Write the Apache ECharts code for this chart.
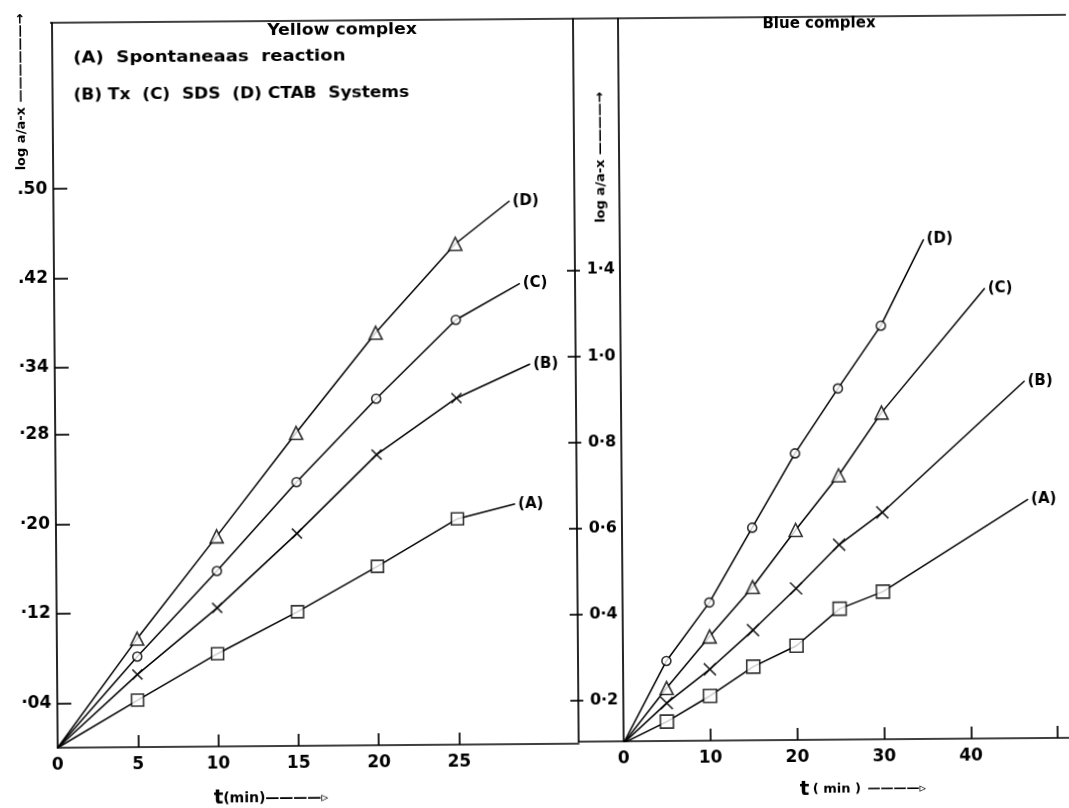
<!DOCTYPE html>
<html>
<head>
<meta charset="utf-8">
<script src="https://cdn.jsdelivr.net/npm/echarts@6/dist/echarts.min.js"></script>
<style>
html,body{margin:0;padding:0;background:#fff;}
#chart{width:1069px;height:808px;transform:rotate(-0.45deg);transform-origin:50% 50%;}
</style>
</head>
<body>
<div id="chart"></div>
<script>
// ---------- data ----------
// Yellow complex (left panel)
const tLeft = [5, 10, 15, 20, 25];
const leftA = [0.042, 0.083, 0.120, 0.160, 0.202];   // squares
const leftB = [0.065, 0.124, 0.190, 0.260, 0.310];   // crosses
const leftC = [0.081, 0.157, 0.236, 0.310, 0.380];   // circles
const leftD = [0.097, 0.188, 0.280, 0.369, 0.448];   // triangles
const leftStart = [0, 0];
const leftEndT = [28.6, 29.6, 29.0, 28.4];           // A B C D line ends
const leftEndV = [0.215, 0.340, 0.412, 0.486];

// Blue complex (right panel)
const tRight = [5, 10, 15, 20, 25, 30];
const rightA = [0.149, 0.208, 0.275, 0.323, 0.408, 0.447]; // squares
const rightB = [0.192, 0.270, 0.360, 0.456, 0.557, 0.631]; // crosses
const rightC = [0.227, 0.346, 0.460, 0.592, 0.718, 0.863]; // triangles
const rightD = [0.290, 0.425, 0.598, 0.770, 0.920, 1.065]; // circles
const rightStart = [0, 0.1];
const rightEndT = [46.8, 46.5, 42.0, 35.0];
const rightEndV = [0.659, 0.934, 1.150, 1.265];

const curveNames = ['(A)', '(B)', '(C)', '(D)'];

// ---------- tick labels ----------
const leftXTicks = [5, 10, 15, 20, 25];
const leftXLabelVals = [0, 5, 10, 15, 20, 25];
const leftYTicks = [0.04, 0.12, 0.20, 0.28, 0.34, 0.42, 0.50];
const leftYLabels = ['·04', '·12', '·20', '·28', '·34', '.42', '.50'];
const rightXTicks = [10, 20, 30, 40, 50];
const rightXLabelVals = [0, 10, 20, 30, 40];
const rightYTicks = [0.2, 0.4, 0.6, 0.8, 1.0, 1.2];
const rightYLabels = ['0·2', '0·4', '0·6', '0·8', '1·0', '1·4'];

// ---------- build ----------
const FONT = 'DejaVu Sans';
const INK = '#000';

function labelFrom(ticks, labels) {
  return function (v) {
    for (let i = 0; i < ticks.length; i++) if (Math.abs(ticks[i] - v) < 1e-6) return labels[i];
    return '';
  };
}

const crossPath = 'path://M0,0L10,10M10,0L0,10';
const markerStyle = { color: '#fff', borderColor: INK, borderWidth: 1.6 };
const crossStyle = { color: 'rgba(0,0,0,0)', borderColor: INK, borderWidth: 1.7 };

function lineSeries(xi, start, ts, vals, endT, endV, name) {
  const data = [start.slice()];
  ts.forEach((t, i) => data.push([t, vals[i]]));
  data.push([endT, endV]);
  return {
    type: 'line', xAxisIndex: xi, yAxisIndex: xi, data: data,
    symbol: 'none', silent: true, z: 3,
    lineStyle: { color: INK, width: 1.5 },
    endLabel: { show: true, formatter: name, distance: 3,
      color: INK, fontFamily: FONT, fontWeight: 'bold', fontSize: 15 }
  };
}
function markSeries(xi, ts, vals, symbol, size) {
  return {
    type: 'scatter', xAxisIndex: xi, yAxisIndex: xi, z: 5, silent: true,
    data: ts.map((t, i) => [t, vals[i]]),
    symbol: symbol, symbolSize: size,
    itemStyle: symbol === crossPath ? crossStyle : markerStyle
  };
}

const axisText = { color: INK, fontFamily: FONT, fontWeight: 'bold', fontSize: 16 };
const axisLineStyle = { color: INK, width: 1.7 };

const leftSets = [leftA, leftB, leftC, leftD];
const rightSets = [rightA, rightB, rightC, rightD];

const series = [];
leftSets.forEach((s, i) => series.push(lineSeries(0, leftStart, tLeft, s, leftEndT[i], leftEndV[i], curveNames[i])));
rightSets.forEach((s, i) => series.push(lineSeries(1, rightStart, tRight, s, rightEndT[i], rightEndV[i], curveNames[i])));
series.push(markSeries(0, tLeft, leftA, 'rect', 12));
series.push(markSeries(0, tLeft, leftB, crossPath, 10));
series.push(markSeries(0, tLeft, leftC, 'circle', 9));
series.push(markSeries(0, tLeft, leftD, 'triangle', 13));
series.push(markSeries(1, tRight, rightA, 'rect', 13));
series.push(markSeries(1, tRight, rightB, crossPath, 12));
series.push(markSeries(1, tRight, rightC, 'triangle', 13));
series.push(markSeries(1, tRight, rightD, 'circle', 9));

const titleFont = 'bold 16px "DejaVu Sans"';
const option = {
  backgroundColor: '#fff',
  animation: false,
  grid: [
    { left: 55, top: 19, width: 521, height: 725 },
    { left: 576, top: 19, width: 493, height: 723 }
  ],
  xAxis: [
    { type: 'value', gridIndex: 0, min: 0, max: 32.44,
      axisLine: { show: true, onZero: false, lineStyle: axisLineStyle },
      axisTick: { show: true, inside: true, length: 12, customValues: leftXTicks, lineStyle: axisLineStyle },
      axisLabel: Object.assign({ margin: 9, customValues: leftXLabelVals }, axisText, { fontSize: 17 }),
      splitLine: { show: false } },
    { type: 'value', gridIndex: 1, min: -5.18, max: 51.6,
      axisLine: { show: true, onZero: false, lineStyle: axisLineStyle },
      axisTick: { show: true, inside: true, length: 12, customValues: rightXTicks, lineStyle: axisLineStyle },
      axisLabel: Object.assign({ margin: 9, customValues: rightXLabelVals }, axisText, { fontSize: 17 }),
      splitLine: { show: false } }
  ],
  yAxis: [
    { type: 'value', gridIndex: 0, min: 0, max: 0.6486,
      axisLine: { show: true, onZero: false, lineStyle: axisLineStyle },
      axisTick: { show: true, inside: true, length: 14, customValues: leftYTicks, lineStyle: axisLineStyle },
      axisLabel: Object.assign({ margin: 6, customValues: leftYTicks,
        formatter: labelFrom(leftYTicks, leftYLabels) }, axisText, { fontSize: 17 }),
      splitLine: { show: false } },
    { type: 'value', gridIndex: 1, min: 0.104, max: 1.784, position: 'left', offset: -45,
      axisLine: { show: true, onZero: false, lineStyle: axisLineStyle },
      axisTick: { show: false },
      axisLabel: Object.assign({ margin: 5, customValues: rightYTicks,
        formatter: labelFrom(rightYTicks, rightYLabels) }, axisText),
      splitLine: { show: false } },
    { type: 'value', gridIndex: 1, min: 0.104, max: 1.784, position: 'left',
      axisLine: { show: true, onZero: false, lineStyle: axisLineStyle },
      axisTick: { show: true, inside: false, length: 8, customValues: rightYTicks, lineStyle: axisLineStyle },
      axisLabel: { show: false }, splitLine: { show: false } },
    { type: 'value', gridIndex: 1, min: 0.104, max: 1.784, position: 'left',
      axisLine: { show: false, onZero: false },
      axisTick: { show: true, inside: true, length: 5, customValues: rightYTicks, lineStyle: axisLineStyle },
      axisLabel: { show: false }, splitLine: { show: false } }
  ],
  graphic: [
    { type: 'line', shape: { x1: 53, y1: 19, x2: 1069, y2: 19 }, style: { stroke: INK, lineWidth: 1.7 } },
    { type: 'text', x: 345, y: 29, scaleX: 1.08, style: { text: 'Yellow complex', fill: INK, font: titleFont, textAlign: 'center', textVerticalAlign: 'middle' } },
    { type: 'text', x: 76, y: 55, scaleX: 1.13, style: { text: '(A)  Spontaneaas  reaction', fill: INK, font: titleFont, textVerticalAlign: 'middle' } },
    { type: 'text', x: 76, y: 92, scaleX: 1.06, style: { text: '(B) Tx  (C)  SDS  (D) CTAB  Systems', fill: INK, font: titleFont, textVerticalAlign: 'middle' } },
    { type: 'text', x: 822, y: 26, style: { text: 'Blue complex', fill: INK, font: 'bold 15px "DejaVu Sans"', textAlign: 'center', textVerticalAlign: 'middle' } },
    { type: 'text', x: 24, y: 88, rotation: Math.PI / 2, style: { text: 'log a/a-x ——————→', fill: INK, font: 'bold 13px "DejaVu Sans"', textAlign: 'center', textVerticalAlign: 'middle' } },
    { type: 'text', x: 603, y: 158, rotation: Math.PI / 2, style: { text: 'log a/a-x ————→', fill: INK, font: 'bold 13px "DejaVu Sans"', textAlign: 'center', textVerticalAlign: 'middle' } },
    { type: 'text', x: 268, y: 796, style: { text: '{t|t}{m|(min)}{m|————▹}', textAlign: 'center', textVerticalAlign: 'middle',
        rich: { t: { fill: INK, font: 'bold 20px "DejaVu Sans"' }, m: { fill: INK, font: 'bold 14px "DejaVu Sans"' } } } },
    { type: 'text', x: 860, y: 792, style: { text: '{t|t} {m|( min )}  {m|————▹}', textAlign: 'center', textVerticalAlign: 'middle',
        rich: { t: { fill: INK, font: 'bold 20px "DejaVu Sans"' }, m: { fill: INK, font: 'bold 13px "DejaVu Sans"' } } } }
  ],
  series: series
};

const chart = echarts.init(document.getElementById('chart'), null, { renderer: 'canvas' });
chart.setOption(option);
</script>
</body>
</html>
